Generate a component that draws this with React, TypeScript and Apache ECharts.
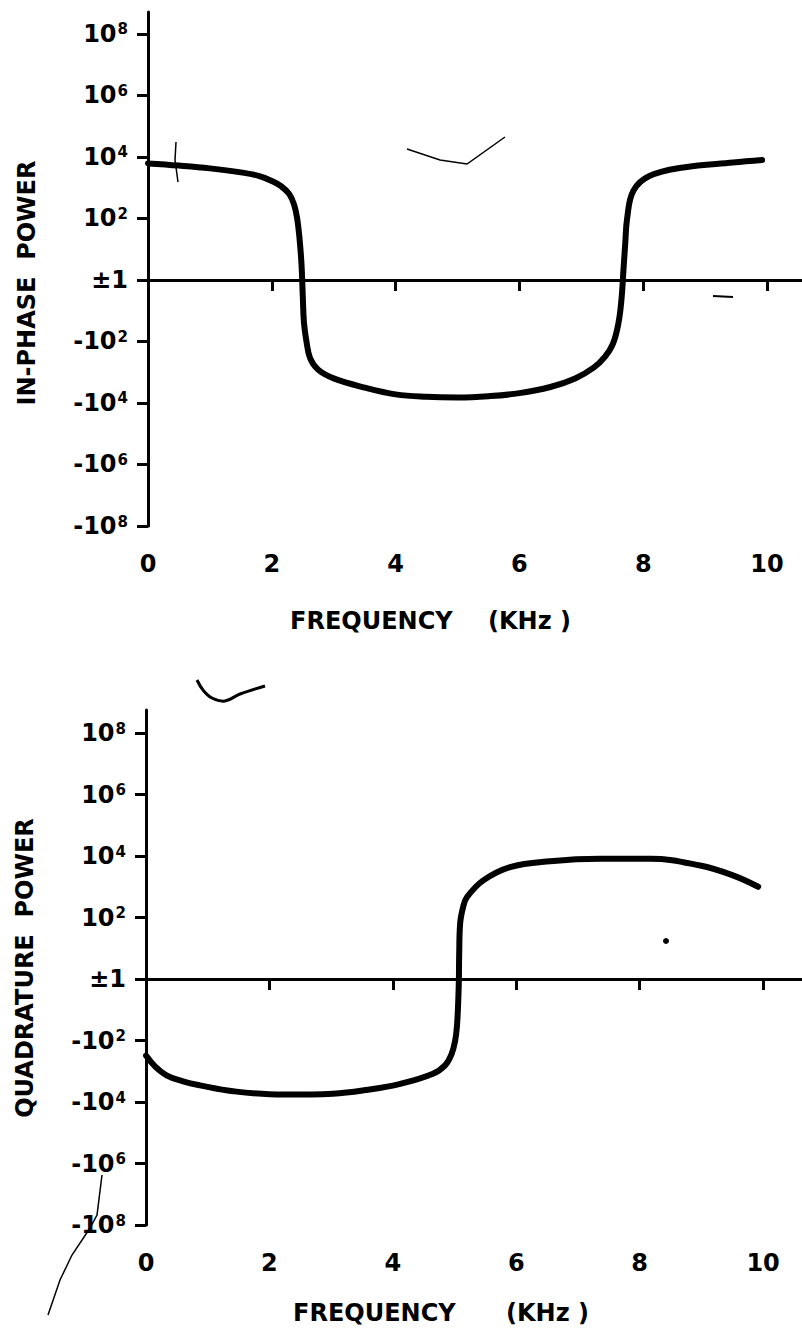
import React, { useEffect, useRef } from "react";
import * as echarts from "echarts";

// ---- Data (power shown on a signed-log scale: sign(P) * log10|P|, ±1 -> 0) ----
const FREQ_TICKS = [0, 2, 4, 6, 8, 10];
const POWER_TICKS = [-8, -6, -4, -2, 0, 2, 4, 6, 8];

const inPhaseFreq = [0, 0.5, 1.0, 1.5, 1.8, 2.0, 2.15, 2.28, 2.36, 2.41, 2.45, 2.48, 2.5, 2.52, 2.56, 2.62, 2.75, 3.0, 3.5, 4.0, 4.5, 5.0, 5.5, 6.0, 6.5, 6.9, 7.2, 7.38, 7.51, 7.6, 7.65, 7.68, 7.71, 7.74, 7.84, 8.1, 8.65, 9.45, 9.92];
const inPhasePower = [3.79, 3.72, 3.63, 3.5, 3.38, 3.22, 3.05, 2.8, 2.45, 2.0, 1.3, 0.5, -0.5, -1.4, -2.0, -2.55, -2.92, -3.2, -3.5, -3.72, -3.8, -3.82, -3.78, -3.68, -3.48, -3.2, -2.85, -2.5, -2.08, -1.4, -0.6, 0.3, 1.2, 2.0, 2.9, 3.38, 3.66, 3.82, 3.9];

const quadFreq = [0, 0.15, 0.34, 0.6, 0.875, 1.41, 2.22, 3.03, 3.6, 4.12, 4.65, 4.85, 4.95, 5.01, 5.04, 5.06, 5.07, 5.075, 5.09, 5.14, 5.2, 5.46, 5.9, 6.55, 7.36, 8.17, 8.98, 9.51, 9.92];
const quadPower = [-2.49, -2.85, -3.14, -3.33, -3.46, -3.65, -3.76, -3.73, -3.6, -3.41, -3.08, -2.8, -2.45, -2.0, -1.5, -0.7, 0, 0.8, 1.8, 2.35, 2.66, 3.2, 3.64, 3.83, 3.91, 3.91, 3.69, 3.37, 3.0];

const FONT = '"DejaVu Sans", "Liberation Sans", sans-serif';

function powerLabel(v: number): string {
  if (v === 0) return "{m|±1}";
  return (v < 0 ? "{m|-}" : "") + "{m|10}{s|" + Math.abs(v) + "}";
}

function pairs(xs: number[], ys: number[]) {
  return xs.map((x, i) => [x, ys[i]]);
}

const axisLineStyle = { color: "#000", width: 3 };

function makeXAxis(gridIndex: number, max: number) {
  return {
    type: "value",
    gridIndex,
    min: 0,
    max,
    axisLine: { show: true, lineStyle: axisLineStyle },
    axisTick: { show: true, length: 11, lineStyle: axisLineStyle, customValues: FREQ_TICKS },
    axisLabel: {
      show: true,
      customValues: FREQ_TICKS,
      margin: 26,
      color: "#000",
      fontFamily: FONT,
      fontWeight: "bold",
      fontSize: 24,
      formatter: (v: number) => String(v),
    },
    splitLine: { show: false },
  };
}

function makeYAxis(gridIndex: number, max: number) {
  return {
    type: "value",
    gridIndex,
    min: -8,
    max,
    axisLine: { show: true, onZero: false, lineStyle: axisLineStyle },
    axisTick: { show: true, length: 11, lineStyle: axisLineStyle, customValues: POWER_TICKS },
    axisLabel: {
      show: true,
      customValues: POWER_TICKS,
      margin: 20,
      formatter: (v: number) => powerLabel(v),
      rich: {
        m: { fontFamily: FONT, fontWeight: "bold", fontSize: 24, color: "#000" },
        s: { fontFamily: FONT, fontWeight: "bold", fontSize: 15, color: "#000", verticalAlign: "top", padding: [0, 0, 4, 1] },
      },
    },
    splitLine: { show: false },
  };
}

function curveSeries(idx: number, data: number[][]) {
  return {
    type: "line",
    xAxisIndex: idx,
    yAxisIndex: idx,
    data,
    symbol: "none",
    showSymbol: false,
    smooth: 0.4,
    lineStyle: { color: "#000", width: 6, cap: "round", join: "round" },
    z: 5,
    markLine: {
      silent: true,
      symbol: ["none", "none"],
      label: { show: false },
      lineStyle: { color: "#000", width: 3, type: "solid" },
      data: [{ yAxis: 0 }],
    },
  };
}

const titleStyle = (text: string) => ({
  text,
  fontFamily: FONT,
  fontWeight: "bold",
  fontSize: 24,
  fill: "#000",
});

export default function App() {
  const ref = useRef<HTMLDivElement>(null);
  useEffect(() => {
    document.body.style.margin = "0";
    if (!ref.current) return;
    const chart = echarts.init(ref.current, null, { renderer: "svg" });
    chart.setOption({
      animation: false,
      backgroundColor: "#fff",
      grid: [
        { left: 148, top: 12, width: 654, height: 514, containLabel: false },
        { left: 146, top: 710, width: 656, height: 515, containLabel: false },
      ],
      xAxis: [makeXAxis(0, 10.565), makeXAxis(1, 10.63)],
      yAxis: [makeYAxis(0, 8.715), makeYAxis(1, 8.748)],
      series: [
        curveSeries(0, pairs(inPhaseFreq, inPhasePower)),
        curveSeries(1, pairs(quadFreq, quadPower)),
      ],
      graphic: [
        // axis titles
        { type: "text", x: 290, y: 621, style: { ...titleStyle("FREQUENCY"), align: "left", verticalAlign: "middle" } },
        { type: "text", x: 488, y: 621, style: { ...titleStyle("(KHz )"), align: "left", verticalAlign: "middle" } },
        { type: "text", x: 293, y: 1313, style: { ...titleStyle("FREQUENCY"), align: "left", verticalAlign: "middle" } },
        { type: "text", x: 506, y: 1313, style: { ...titleStyle("(KHz )"), align: "left", verticalAlign: "middle" } },
        { type: "text", x: 27, y: 283, rotation: Math.PI / 2, style: { ...titleStyle("IN-PHASE  POWER"), align: "center", verticalAlign: "middle" } },
        { type: "text", x: 25, y: 968, rotation: Math.PI / 2, style: { ...titleStyle("QUADRATURE  POWER"), align: "center", verticalAlign: "middle" } },
        // scan artifacts
        { type: "polyline", shape: { points: [[407, 149], [440, 160], [467, 164], [505, 137]] }, style: { stroke: "#000", lineWidth: 1.5, fill: "none" } },
        { type: "polyline", shape: { points: [[176, 142], [175, 160], [178, 182]] }, style: { stroke: "#000", lineWidth: 1.5, fill: "none" } },
        { type: "polyline", shape: { points: [[197, 680], [203, 690], [212, 698], [225, 701], [240, 694], [265, 686]], smooth: 0.4 }, style: { stroke: "#000", lineWidth: 3, fill: "none" } },
        { type: "polyline", shape: { points: [[102, 1175], [97, 1215], [90, 1228], [72, 1255], [60, 1280], [48, 1315]] }, style: { stroke: "#000", lineWidth: 1.5, fill: "none" } },
        { type: "polyline", shape: { points: [[713, 296], [733, 297]] }, style: { stroke: "#000", lineWidth: 2, fill: "none" } },
        { type: "circle", shape: { cx: 666, cy: 941, r: 3 }, style: { fill: "#000" } },
      ],
    });
    return () => chart.dispose();
  }, []);
  return <div ref={ref} style={{ width: 802, height: 1334 }} />;
}
